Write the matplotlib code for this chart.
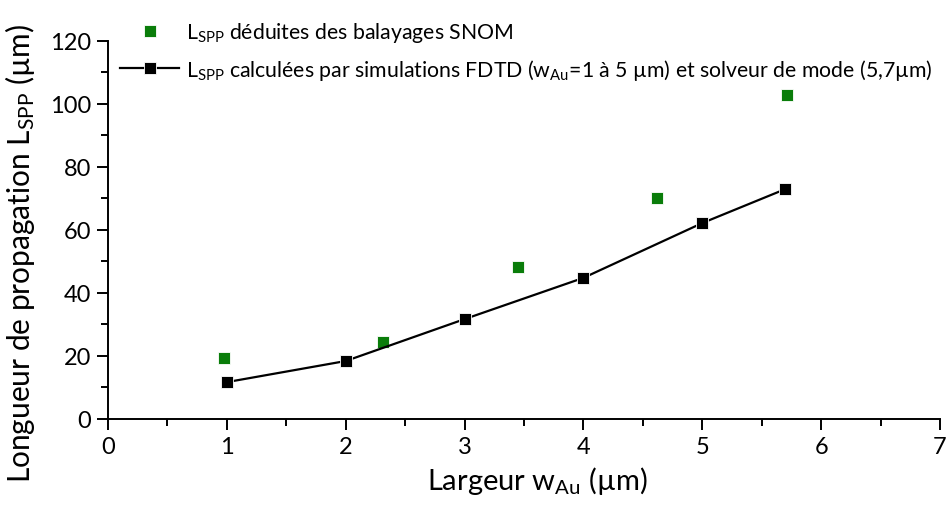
import matplotlib
matplotlib.use("Agg")
import matplotlib.pyplot as plt
from matplotlib.ticker import MultipleLocator

plt.rcParams['font.family'] = ['Lato', 'DejaVu Sans']
plt.rcParams['mathtext.default'] = 'regular'

# SNOM-derived propagation lengths
w_snom = [0.975, 2.31, 3.45, 4.62, 5.71]
L_snom = [19.4, 24.4, 48.3, 70.2, 102.9]

# FDTD (1-5 µm) and mode solver (5.7 µm)
w_sim = [1, 2, 3, 4, 5, 5.7]
L_sim = [11.7, 18.4, 31.7, 44.8, 62.2, 73.0]

x_ticks = [0, 1, 2, 3, 4, 5, 6, 7]
y_ticks = [0, 20, 40, 60, 80, 100, 120]

fig = plt.figure(figsize=(9.52, 5.06), dpi=100)
ax = fig.add_axes([0.1134, 0.17, 0.874, 0.747])

green = '#0a7d0a'
h1, = ax.plot(w_snom, L_snom, linestyle='none', marker='s', markersize=8,
              color=green, markeredgecolor='white', markeredgewidth=0.6,
              label=r'L$_{SPP}$ déduites des balayages SNOM', clip_on=False, zorder=3)
h2, = ax.plot(w_sim, L_sim, '-', color='black', linewidth=1.6, marker='s',
              markersize=8.5, markeredgecolor='white', markeredgewidth=0.6,
              label=r'L$_{SPP}$ calculées par simulations FDTD (w$_{Au}$=1 à 5 µm) et solveur de mode (5,7µm)',
              clip_on=False, zorder=3)

ax.set_xlim(0, 7)
ax.set_ylim(0, 120)
ax.set_xticks(x_ticks)
ax.set_yticks(y_ticks)
ax.xaxis.set_minor_locator(MultipleLocator(0.5))
ax.yaxis.set_minor_locator(MultipleLocator(10))

for s in ['top', 'right']:
    ax.spines[s].set_visible(False)
for s in ['left', 'bottom']:
    ax.spines[s].set_linewidth(1.4)

ax.tick_params(which='major', direction='out', length=8, width=1.4,
               labelsize=17, pad=4)
ax.tick_params(which='minor', direction='out', length=5, width=1.4)

ax.set_xlabel(r'Largeur w$_{Au}$ (µm)', fontsize=21)
ax.set_ylabel(r'Longueur de propagation L$_{SPP}$ (µm)', fontsize=21.5)
ax.xaxis.set_label_coords(0.516, -0.118)
ax.yaxis.set_label_coords(-0.085, 0.44)

leg = fig.legend(handles=[h1, h2], loc='upper left',
                 bbox_to_anchor=(0.117, 0.975), frameon=False,
                 fontsize=15.3, handlelength=2.8, handletextpad=0.3,
                 labelspacing=0.6, borderaxespad=0)

fig.savefig('out.png', dpi=100)
